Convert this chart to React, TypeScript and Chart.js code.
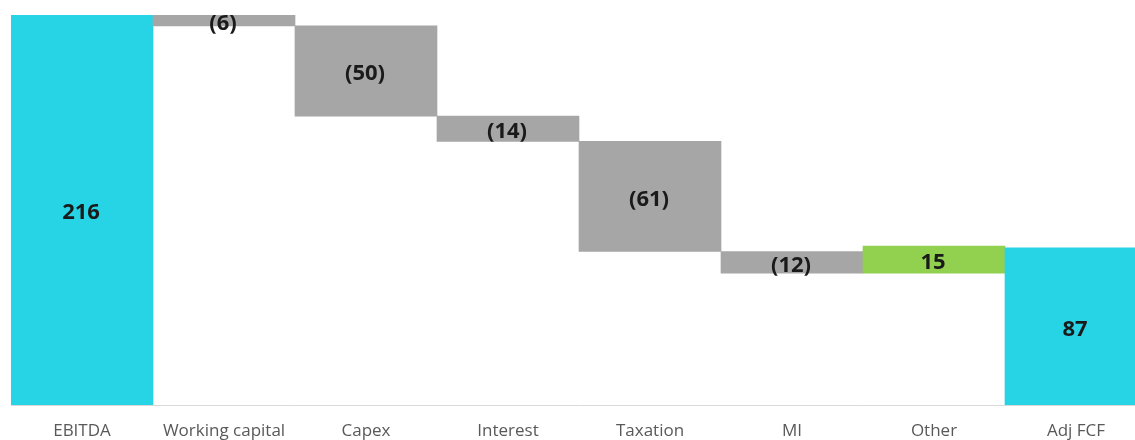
import React, { useEffect, useRef } from "react";
import { Chart, registerables } from "chart.js";

Chart.register(...registerables);

const categories = ["EBITDA", "Working capital", "Capex", "Interest", "Taxation", "MI", "Other", "Adj FCF"];
const values = [216, -6, -50, -14, -61, -12, 15, 87];
const kinds = ["total", "delta", "delta", "delta", "delta", "delta", "delta", "total"];
const valueLabels = ["216", "(6)", "(50)", "(14)", "(61)", "(12)", "15", "87"];

const CYAN = "#27d4e6";
const GRAY = "#a6a6a6";
const GREEN = "#92d050";

export default function App() {
  const ref = useRef<HTMLCanvasElement | null>(null);
  useEffect(() => {
    if (!ref.current) return;
    let running = 0;
    const ranges: [number, number][] = [];
    const colors: string[] = [];
    values.forEach((v, i) => {
      if (kinds[i] === "total") {
        ranges.push([0, v]);
        running = v;
        colors.push(CYAN);
      } else {
        const start = running;
        running = running + v;
        ranges.push([start, running]);
        colors.push(v < 0 ? GRAY : GREEN);
      }
    });
    const labelPlugin = {
      id: "wfLabels",
      afterDatasetsDraw(chart: any) {
        const ctx = chart.ctx;
        const meta = chart.getDatasetMeta(0);
        ctx.save();
        ctx.font = "bold 22px 'Open Sans', sans-serif";
        ctx.fillStyle = "#1a1a1a";
        ctx.textAlign = "center";
        ctx.textBaseline = "middle";
        meta.data.forEach((bar: any, i: number) => {
          const y = (bar.y + bar.base) / 2;
          ctx.fillText(valueLabels[i], bar.x - 1, y + 3);
        });
        ctx.restore();
      },
    };
    const chart = new Chart(ref.current, {
      type: "bar",
      data: {
        labels: categories,
        datasets: [
          {
            data: ranges as any,
            backgroundColor: colors,
            borderWidth: 0,
            categoryPercentage: 1,
            barPercentage: 1,
          },
        ],
      },
      options: {
        animation: false,
        responsive: true,
        maintainAspectRatio: false,
        layout: { padding: { left: 11, top: 15, right: 0, bottom: 0 } },
        plugins: { legend: { display: false }, tooltip: { enabled: false } },
        scales: {
          x: {
            grid: { display: false, drawTicks: false },
            border: { display: true, color: "#d9d9d9", width: 1 },
            ticks: {
              color: "#595959",
              padding: 16,
              font: { size: 17, family: "'Open Sans', sans-serif" },
              maxRotation: 0,
            },
            afterFit: (scale: any) => {
              scale.height = 35;
            },
          },
          y: {
            display: false,
            min: 0,
            max: 216,
          },
        },
      },
      plugins: [labelPlugin],
    });
    return () => chart.destroy();
  }, []);
  return (
    <div style={{ position: "absolute", left: 0, top: 0, width: 1135, height: 440, overflow: "hidden", background: "#fff" }}>
      <div style={{ position: "relative", width: 1147, height: 440 }}>
        <canvas ref={ref} />
      </div>
    </div>
  );
}
